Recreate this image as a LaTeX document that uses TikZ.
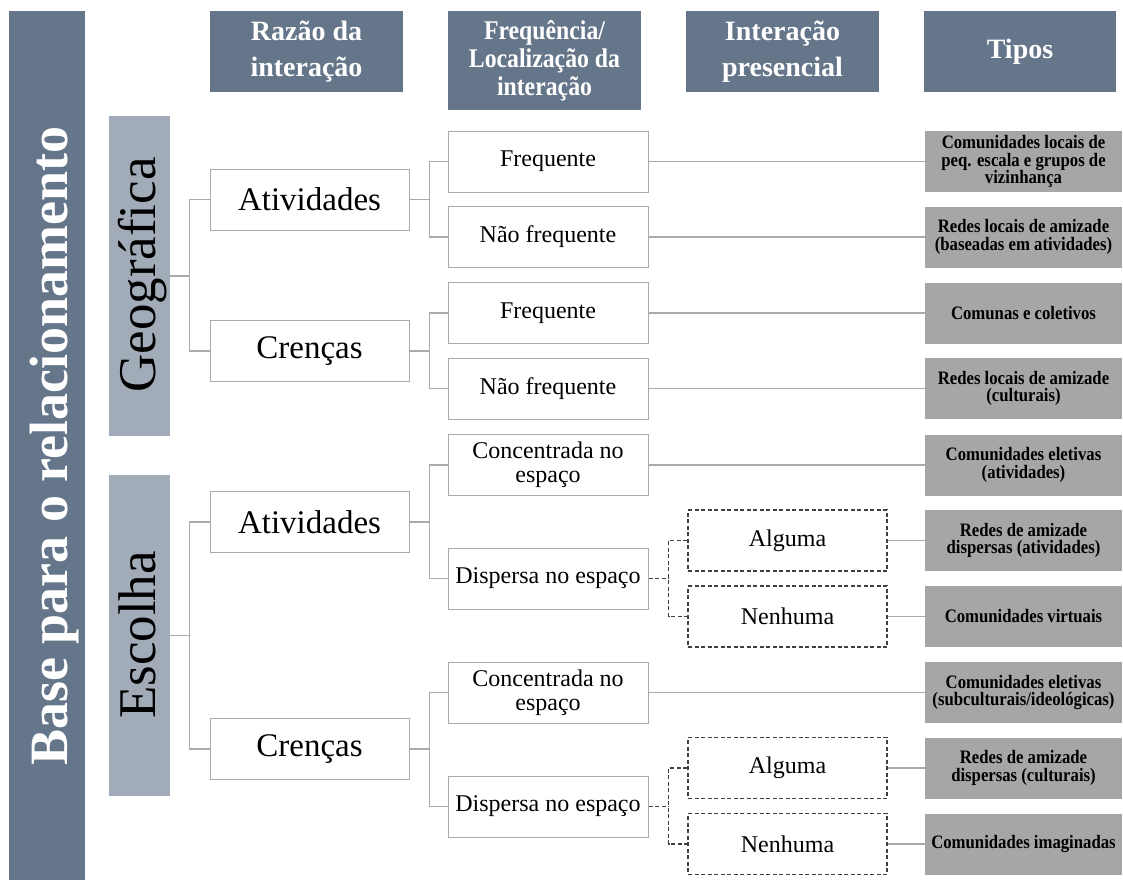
\documentclass[tikz,border=0pt]{standalone}
\usepackage{fontspec}
\setmainfont{Liberation Serif}
\newfontfamily\condserif[FakeStretch=0.88]{Liberation Serif}
\definecolor{hdrcol}{RGB}{102,118,138}
\definecolor{barcol}{RGB}{162,172,185}
\definecolor{tipcol}{RGB}{166,166,166}
\definecolor{boxline}{RGB}{170,170,170}
\definecolor{linecol}{RGB}{170,170,170}
\definecolor{dashcol}{RGB}{64,64,64}
\tikzset{
  hdr/.style={fill=hdrcol, text=white, inner sep=0pt, align=center, font=\bfseries\fontsize{28}{36}\selectfont},
  lvl/.style={draw=boxline, line width=1pt, fill=white, minimum width=199pt, minimum height=61pt, inner sep=0pt, font=\fontsize{33}{36}\selectfont},
  sub/.style={draw=boxline, line width=1pt, fill=white, minimum width=200pt, minimum height=61pt, inner sep=0pt, align=center, font=\fontsize{24}{24}\selectfont},
  dbox/.style={draw=dashcol, line width=1.1pt, dash pattern=on 4pt off 2.5pt, fill=white, minimum width=199pt, minimum height=61pt, inner sep=0pt, font=\fontsize{24}{24}\selectfont},
  tipo/.style={fill=tipcol, minimum width=197pt, minimum height=61pt, inner sep=0pt, align=center, font=\condserif\bfseries\fontsize{19}{17.5}\selectfont},
  conn/.style={draw=linecol, line width=1.2pt},
  dconn/.style={draw=dashcol, line width=1.1pt, dash pattern=on 4pt off 2.5pt},
  vbar/.style={inner sep=0pt},
}
\begin{document}
\begin{tikzpicture}[x=1pt,y=-1pt]
\useasboundingbox (0,0) rectangle (1123,880);
% left bars
\fill[hdrcol] (9,11) rectangle (85,880);
\node[rotate=90, anchor=base, text=white, font=\bfseries\fontsize{54}{54}\selectfont] (base) at (67,446) {Base para o relacionamento};
\node[vbar, fill=barcol, minimum width=61pt, minimum height=320pt] (geo) at (139.5,276) {};
\node[vbar, fill=barcol, minimum width=61pt, minimum height=321pt] (esc) at (139.5,635.5) {};
\node[rotate=90, anchor=base, font=\fontsize{53}{53}\selectfont] (geot) at (155,275) {Geográfica};
\node[rotate=90, anchor=base, font=\fontsize{53}{53}\selectfont] (esct) at (155,635) {Escolha};
% headers
\node[hdr, minimum width=193pt, minimum height=81pt] (h1) at (306.5,51.5) {Razão da\\interação};
\node[hdr, minimum width=193pt, minimum height=99pt, font=\condserif\bfseries\fontsize{27}{28}\selectfont] (h2) at (544.5,60.5) {Frequência/\\Localização da\\interação};
\node[hdr, minimum width=193pt, minimum height=81pt] (h3) at (782.5,51.5) {Interação\\presencial};
\node[hdr, minimum width=192pt, minimum height=81pt] (h4) at (1020,51.5) {\raisebox{-5pt}{Tipos}};
% level 1
\node[lvl] (ga) at (309.5,199.5) {Atividades};
\node[lvl] (gc) at (309.5,351) {Crenças};
\node[lvl] (ea) at (309.5,522) {Atividades};
\node[lvl] (ec) at (309.5,749) {Crenças};
% level 2
\node[sub] (f1) at (548,161.5) {Frequente};
\node[sub] (f2) at (548,237) {Não frequente};
\node[sub] (f3) at (548,313) {Frequente};
\node[sub] (f4) at (548,388.5) {Não frequente};
\node[sub] (e1) at (548,465) {Concentrada no\\espaço};
\node[sub] (e2) at (548,578.5) {Dispersa no espaço};
\node[sub] (e3) at (548,692.5) {Concentrada no\\espaço};
\node[sub] (e4) at (548,806.5) {Dispersa no espaço};
% level 3
\node[dbox] (d1) at (787.5,540.5) {Alguma};
\node[dbox] (d2) at (787.5,616.5) {Nenhuma};
\node[dbox] (d3) at (787.5,768) {Alguma};
\node[dbox] (d4) at (787.5,844) {Nenhuma};
% tipos
\node[tipo] (t1) at (1023.5,161.5) {Comunidades locais de\\peq. escala e grupos de\\vizinhança};
\node[tipo] (t2) at (1023.5,237) {Redes locais de amizade\\(baseadas em atividades)};
\node[tipo] (t3) at (1023.5,313) {Comunas e coletivos};
\node[tipo] (t4) at (1023.5,388.5) {Redes locais de amizade\\(culturais)};
\node[tipo] (t5) at (1023.5,465) {Comunidades eletivas\\(atividades)};
\node[tipo] (t6) at (1023.5,540.5) {Redes de amizade\\dispersas (atividades)};
\node[tipo] (t7) at (1023.5,616.5) {Comunidades virtuais};
\node[tipo] (t8) at (1023.5,692.5) {Comunidades eletivas\\(subculturais/ideológicas)};
\node[tipo] (t9) at (1023.5,768) {Redes de amizade\\dispersas (culturais)};
\node[tipo] (t10) at (1023.5,844) {Comunidades imaginadas};
% connectors
\draw[conn] (geo.east) -- ++(19,0) coordinate (gj);
\draw[conn] (ga.west) -| (gj) |- (gc.west);
\draw[conn] (esc.east) -- ++(19,0) coordinate (ej);
\draw[conn] (ea.west) -| (ej) |- (ec.west);
\draw[conn] (ga.east) -- ++(20,0) coordinate (j1);
\draw[conn] (f1.west) -| (j1) |- (f2.west);
\draw[conn] (gc.east) -- ++(20,0) coordinate (j2);
\draw[conn] (f3.west) -| (j2) |- (f4.west);
\draw[conn] (ea.east) -- ++(20,0) coordinate (j3);
\draw[conn] (e1.west) -| (j3) |- (e2.west);
\draw[conn] (ec.east) -- ++(20,0) coordinate (j4);
\draw[conn] (e3.west) -| (j4) |- (e4.west);
\draw[dconn] (e2.east) -- ++(20,0) coordinate (k1);
\draw[dconn] (d1.west) -| (k1) |- (d2.west);
\draw[dconn] (e4.east) -- ++(20,0) coordinate (k2);
\draw[dconn] (d3.west) -| (k2) |- (d4.west);
\draw[conn] (f1.east) -- (t1.west);
\draw[conn] (f2.east) -- (t2.west);
\draw[conn] (f3.east) -- (t3.west);
\draw[conn] (f4.east) -- (t4.west);
\draw[conn] (e1.east) -- (t5.west);
\draw[conn] (d1.east) -- (t6.west);
\draw[conn] (d2.east) -- (t7.west);
\draw[conn] (e3.east) -- (t8.west);
\draw[conn] (d3.east) -- (t9.west);
\draw[conn] (d4.east) -- (t10.west);
\end{tikzpicture}
\end{document}
